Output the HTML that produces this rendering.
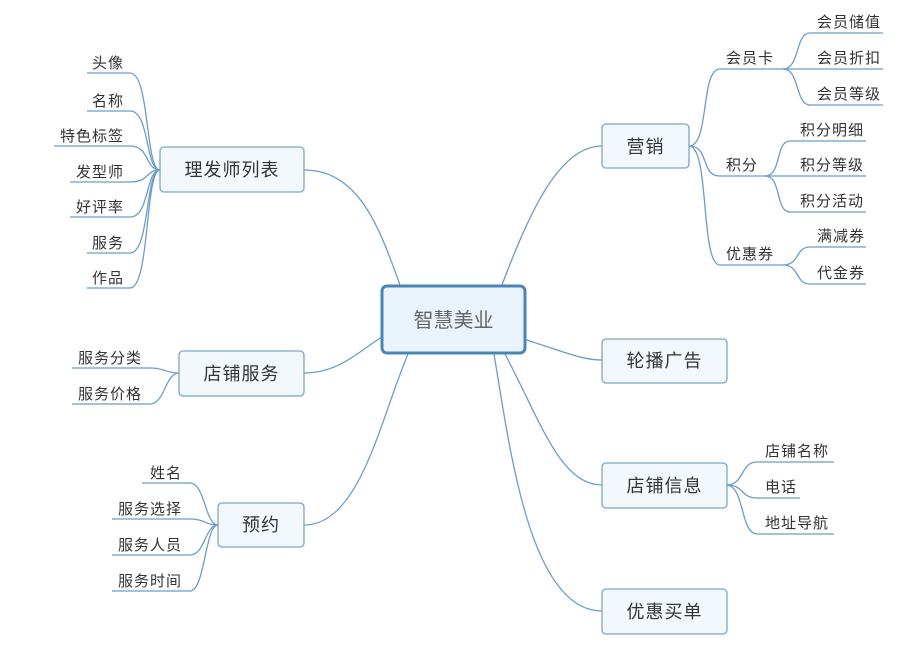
<!DOCTYPE html>
<html><head><meta charset="utf-8"><style>
html,body{margin:0;padding:0;background:#fff;}
svg{display:block;}
text{font-family:"Liberation Sans","Noto Sans CJK SC",sans-serif;fill:#333;}
.l{font-size:15px;letter-spacing:1px;}
.m{font-size:18px;letter-spacing:1px;}
</style></head><body>
<svg width="900" height="645" viewBox="0 0 900 645" xmlns="http://www.w3.org/2000/svg">
<g fill="none" stroke="#6a9ec8" stroke-width="1.3">
<path d="M400 285 C380 230 360 170 304 170"/>
<path d="M385 335 C360 350 340 373 304 373"/>
<path d="M408 354 C380 420 360 525 304 525"/>
<path d="M502 285 C530 210 560 146 602 146"/>
<path d="M526 340 C560 350 580 360 602 360"/>
<path d="M505 354 C540 420 560 485 602 485"/>
<path d="M494 354 C510 450 530 611 602 611"/>
<path d="M87 73 H130 C150 73 145 170 160 170"/>
<path d="M87 111 H130 C150 111 145 170 160 170"/>
<path d="M54 146 H130 C150 146 145 170 160 170"/>
<path d="M70 182 H130 C150 182 145 170 160 170"/>
<path d="M70 217 H130 C150 217 145 170 160 170"/>
<path d="M87 253 H130 C150 253 145 170 160 170"/>
<path d="M87 288 H130 C150 288 145 170 160 170"/>
<path d="M72 368 H150 C165 368 165 373 179 373"/>
<path d="M72 404 H150 C165 404 165 373 179 373"/>
<path d="M142 483 H190 C205 483 205 525 218 525"/>
<path d="M112 519 H190 C205 519 205 525 218 525"/>
<path d="M112 555 H190 C205 555 205 525 218 525"/>
<path d="M112 591 H190 C205 591 205 525 218 525"/>
<path d="M689 146 C710 146 700 69 720 69 H783"/>
<path d="M689 146 C710 146 700 176 720 176 H765"/>
<path d="M689 146 C710 146 700 265 720 265 H783"/>
<path d="M783 69 C800 69 795 33 810 33 H883"/>
<path d="M783 69 H883"/>
<path d="M783 69 C800 69 795 105 810 105 H883"/>
<path d="M765 176 C782 176 775 141 790 141 H866"/>
<path d="M765 176 H866"/>
<path d="M765 176 C782 176 775 212 790 212 H866"/>
<path d="M783 265 C800 265 795 247 810 247 H866"/>
<path d="M783 265 C800 265 795 284 810 284 H866"/>
<path d="M726 485 C745 485 740 462 757 462 H834"/>
<path d="M726 485 C745 485 740 498 757 498 H800"/>
<path d="M726 485 C745 485 740 534 757 534 H834"/>
</g>
<g fill="#f3f8fd" stroke="#7aa6cc" stroke-width="1.3">
<rect x="160" y="147" width="144" height="45" rx="4"/>
<rect x="179" y="351" width="125" height="45" rx="4"/>
<rect x="218" y="503" width="86" height="44" rx="4"/>
<rect x="602" y="124" width="87" height="44" rx="4"/>
<rect x="602" y="339" width="125" height="44" rx="4"/>
<rect x="602" y="463" width="125" height="45" rx="4"/>
<rect x="602" y="589" width="125" height="45" rx="4"/>
</g>
<rect x="382" y="286" width="143" height="67" rx="5" fill="#eaf2fb" stroke="#4a86b4" stroke-width="3"/>
<text x="453.5" y="327" text-anchor="middle" style="font-size:20px;fill:#666">智慧美业</text>
<g class="m" text-anchor="middle">
<text x="232" y="176">理发师列表</text>
<text x="241.5" y="380">店铺服务</text>
<text x="261" y="531">预约</text>
<text x="645.5" y="153">营销</text>
<text x="664.5" y="367">轮播广告</text>
<text x="664.5" y="492">店铺信息</text>
<text x="664.5" y="618">优惠买单</text>
</g>
<g class="l" text-anchor="end">
<text x="124" y="68">头像</text>
<text x="124" y="106">名称</text>
<text x="124" y="141">特色标签</text>
<text x="124" y="177">发型师</text>
<text x="124" y="212">好评率</text>
<text x="124" y="248">服务</text>
<text x="124" y="283">作品</text>
<text x="142" y="363">服务分类</text>
<text x="142" y="399">服务价格</text>
<text x="182" y="478">姓名</text>
<text x="182" y="514">服务选择</text>
<text x="182" y="550">服务人员</text>
<text x="182" y="586">服务时间</text>
</g>
<g class="l">
<text x="726" y="63">会员卡</text>
<text x="726" y="170">积分</text>
<text x="726" y="259">优惠券</text>
<text x="817" y="27">会员储值</text>
<text x="817" y="63">会员折扣</text>
<text x="817" y="99">会员等级</text>
<text x="800" y="135">积分明细</text>
<text x="800" y="170">积分等级</text>
<text x="800" y="206">积分活动</text>
<text x="817" y="241">满减券</text>
<text x="817" y="278">代金券</text>
<text x="765" y="456">店铺名称</text>
<text x="765" y="492">电话</text>
<text x="765" y="528">地址导航</text>
</g>
</svg>
</body></html>
